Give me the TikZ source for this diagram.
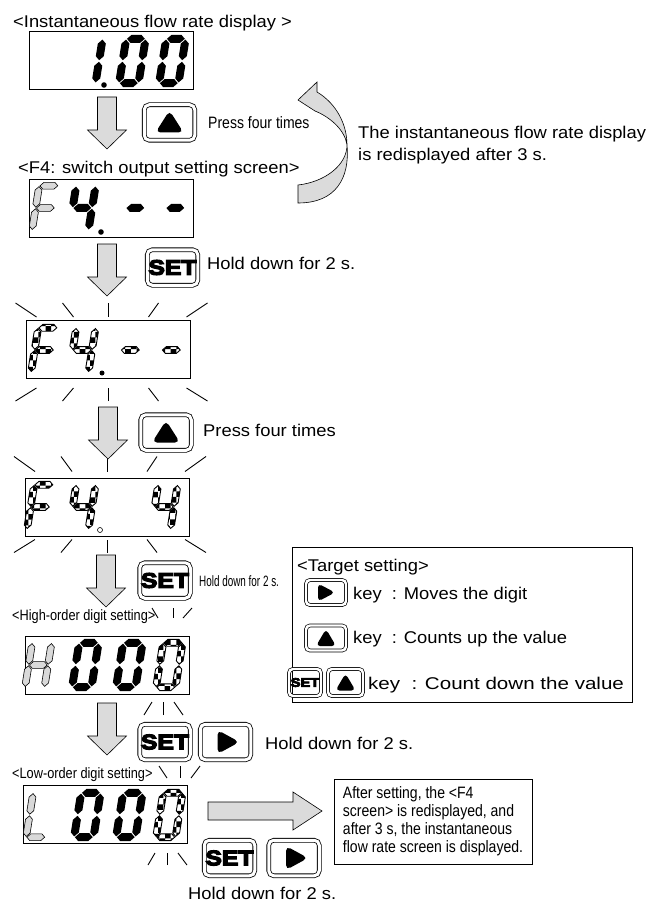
\documentclass[tikz,border=0pt]{standalone}
\usepackage{fontspec}
\setmainfont{Liberation Sans}
\newfontfamily\lblfont{Liberation Sans}[FakeStretch=1.08]
\newfontfamily\widefont{Liberation Sans}[FakeStretch=1.21]
\newfontfamily\condfont{Liberation Sans}[FakeStretch=0.85]
\newfontfamily\thinfont{Liberation Sans}[FakeStretch=0.66]
\newfontfamily\keyfont{Liberation Sans Bold}[FakeStretch=1.18, FakeBold=6]
\usetikzlibrary{patterns}

% where each segment of a digit sits (local frame, y downwards)
\newcommand{\segw}{3.5}
\newcommand{\segpos}[1]{%
  \if a#1\def\segx{13.5}\def\segy{3.8}\def\segr{0}\def\segl{17.8}\fi
  \if b#1\def\segx{23.2}\def\segy{14.9}\def\segr{90}\def\segl{20.6}\fi
  \if c#1\def\segx{23.2}\def\segy{37.1}\def\segr{90}\def\segl{20.6}\fi
  \if d#1\def\segx{13.5}\def\segy{48.2}\def\segr{0}\def\segl{17.8}\fi
  \if e#1\def\segx{3.8}\def\segy{37.1}\def\segr{90}\def\segl{20.6}\fi
  \if f#1\def\segx{3.8}\def\segy{14.9}\def\segr{90}\def\segl{20.6}\fi
  \if g#1\def\segx{13.5}\def\segy{26}\def\segr{0}\def\segl{17.8}\fi}

% one slanted 7-segment digit: style, x, y (top left), segments
\newcommand{\digitat}[4]{%
  \begin{scope}[shift={(#2,#3)}, xslant=0.16]
    \foreach \s in {#4} {
      \segpos{\s}
      \path[#1, shift={(\segx,\segy)}, rotate=\segr]
        (-\segl/2,0) -- (-\segl/2+\segw,-\segw) -- (\segl/2-\segw,-\segw)
        -- (\segl/2,0) -- (\segl/2-\segw,\segw) -- (-\segl/2+\segw,\segw) -- cycle;
    }
  \end{scope}}

\begin{document}
\begin{tikzpicture}[x=1pt, y=-1pt,
    % Styles
    lcd/.style={draw, line width=1pt, minimum width=164pt, minimum height=58pt, inner sep=0pt},
    segon/.style={fill=black, /utils/exec={\def\segw{4}}},
    segdim/.style={draw=black, line width=0.6pt, fill=black!15, /utils/exec={\def\segw{3.4}}},
    segblink/.style={draw=black, line width=0.9pt, pattern=checkerboard, /utils/exec={\def\segw{3.4}}},
    key/.style={
        draw, double, line width=0.8pt, double distance=3pt, rounded corners=5pt,
        minimum width=50.5pt, minimum height=35.5pt, inner sep=0pt,
        font=\keyfont\fontsize{21}{21}\selectfont
    },
    smallkey/.style={
        key, line width=0.7pt, double distance=2.4pt, rounded corners=4pt,
        minimum width=40pt, minimum height=25pt,
        font=\keyfont\fontsize{12.5}{12.5}\selectfont
    },
    upmark/.style={path picture={\fill[shift={(path picture bounding box.center)}]
        (-14,10) -- (14,10) -- (0,-12) -- cycle;}},
    rightmark/.style={path picture={\fill[shift={(path picture bounding box.center)}]
        (-8,-12) -- (-8,12) -- (14,0) -- cycle;}},
    smallup/.style={path picture={\fill[shift={(path picture bounding box.center)}]
        (-10,8) -- (10,8) -- (0,-9) -- cycle;}},
    smallright/.style={path picture={\fill[shift={(path picture bounding box.center)}]
        (-8,-9) -- (-8,9) -- (9,0) -- cycle;}},
    blockarrow/.style={draw=black, line width=0.6pt, fill=black!14},
    ray/.style={line width=0.9pt},
    lbl/.style={inner sep=0pt, anchor=west, text height=12pt, text depth=0pt,
        font=\lblfont\fontsize{17}{22}\selectfont},
    condlbl/.style={lbl, font=\condfont\fontsize{15}{18}\selectfont},
    thinlbl/.style={lbl, font=\thinfont\fontsize{15}{18}\selectfont},
    para/.style={inner sep=0pt, anchor=north west, align=left,
        font=\lblfont\fontsize{17}{22}\selectfont},
    notebox/.style={draw, line width=1pt, minimum width=198pt, minimum height=85pt,
        align=left, inner xsep=8pt, font=\condfont\fontsize{16.5}{18}\selectfont}
]

\path[use as bounding box, fill=white] (0,0) rectangle (660,901);

% ── Instantaneous flow rate ─────────────────────────────────────────────────
\node[lbl] (title1) at (13,22) {<Instantaneous flow rate display >};
\node[lcd] (d1) at (111.5,61) {};
\digitat{segon}{80}{35}{b,c}
\digitat{segon}{123}{35}{a,b,c,d,e,f}
\digitat{segon}{163}{35}{a,b,c,d,e,f}
\fill (104,85) circle (2.8);

\node[key, upmark] (up1) at (169.5,122.5) {};
\node[condlbl, font=\condfont\fontsize{16.5}{18}\selectfont] (press1) at (208,123) {Press four times};

% ── F4 screen ───────────────────────────────────────────────────────────────
\node[lbl] (title2) at (18,168) {<F4: switch output setting screen>};
\node[lcd] (d2) at (111.5,208.5) {};
\digitat{segdim}{36}{182}{a,f,g,e}
\digitat{segon}{73}{182}{f,g,b,c}
\digitat{segon}{126}{182}{g}
\digitat{segon}{166}{182}{g}
\fill (101,232) circle (2.8);

% back to the flow rate display
\path[blockarrow] (298,100) -- (317,82) -- (317,92)
    .. controls (337,104) and (347,125) .. (347,145)
    .. controls (347,165) and (325,182) .. (298,185) -- (298,203)
    .. controls (336,203) and (350,178) .. (347,145)
    .. controls (345,130) and (330,117) .. (315,111) -- cycle;
\node[para] (redisp) at (358,125.5) {The instantaneous flow rate display\\is redisplayed after 3 s.};

\node[key] (set1) at (172.5,267.5) {SET};
\node[lbl] (hold1) at (207,263) {Hold down for 2 s.};

% ── Blinking F4 ─────────────────────────────────────────────────────────────
\node[lcd] (d3) at (108.5,349.5) {};
\digitat{segblink}{35}{324}{a,f,g,e}
\digitat{segblink}{73}{324}{f,g,b,c}
\digitat{segblink}{121}{324}{g}
\digitat{segblink}{162}{324}{g}
\fill (102,373) circle (2.5);

\node[key, upmark] (up2) at (166,432.5) {};
\node[lbl] (press2) at (203,430) {Press four times};

\node[lcd] (d4) at (107,507) {};
\digitat{segblink}{31}{481}{a,f,g,e}
\digitat{segblink}{73}{481}{f,g,b,c}
\digitat{segblink}{155}{481}{f,g,b,c}
\draw[line width=0.6pt, fill=white] (100,530) circle (2.5);

\foreach \o/\i in {-93/-72, -46/-35, 0/0, 50/40, 99/78} {
    \draw[ray] ([shift={(\o,-17)}]d3.north) -- ([shift={(\i,-3)}]d3.north);
    \draw[ray] ([shift={(\o,22)}]d3.south) -- ([shift={(\i,9)}]d3.south);
    \draw[ray] ([shift={(\o,-21)}]d4.north) -- ([shift={(\i,-6)}]d4.north);
    \draw[ray] ([shift={(\o,16)}]d4.south) -- ([shift={(\i,3)}]d4.south);
}

\node[key] (set2) at (165,580.5) {SET};
\node[thinlbl] (hold2) at (199,580) {Hold down for 2 s.};

% ── High-order digit ────────────────────────────────────────────────────────
\node[condlbl] (hiset) at (12,614) {<High-order digit setting>};
\node[lcd] (d5) at (107,665) {};
\digitat{segdim}{29}{639}{b,c,e,f,g}
\digitat{segon}{76}{639}{a,b,c,d,e,f}
\digitat{segon}{120}{639}{a,b,c,d,e,f}
\digitat{segblink}{160}{639}{a,b,c,d,e,f}

\node[key] (set3) at (165,742) {SET};
\node[key, rightmark] (right1) at (225.5,742) {};
\node[lbl] (hold3) at (265,743) {Hold down for 2 s.};

% ── Low-order digit ─────────────────────────────────────────────────────────
\node[condlbl] (loset) at (12,772) {<Low-order digit setting>};
\node[lcd] (d6) at (105.5,814.5) {};
\digitat{segdim}{30}{789}{f,e,d}
\digitat{segon}{78}{789}{a,b,c,d,e,f}
\digitat{segon}{120}{789}{a,b,c,d,e,f}
\digitat{segblink}{160}{789}{a,b,c,d,e,f}

\foreach \xa/\ya/\xb/\yb in {152/608/158/618, 173/608/173/618, 192/608/183/618,
        144/715/152/702, 163/715/163/702, 183/715/174/702,
        159/766/167/778, 180/766/180/778, 200/766/191/778,
        148/865/155/853, 167/865/167/853, 187/865/178/853}
    \draw[ray] (\xa,\ya) -- (\xb,\yb);

\node[key] (set4) at (229.5,858) {SET};
\node[key, rightmark] (right2) at (294,858) {};
\node[lbl] (hold4) at (188,893) {Hold down for 2 s.};

\path[blockarrow] (208,802) -- (293,802) -- (293,792) -- (322,811)
    -- (293,830) -- (293,820) -- (208,820) -- cycle;
\node[notebox] (note) at (433,821.5) {After setting, the <F4\\screen> is redisplayed, and\\after 3 s, the instantaneous\\flow rate screen is displayed.};

% ── Down arrows ─────────────────────────────────────────────────────────────
\foreach \x/\y in {107/97, 107/244, 108/407, 106/555, 107/703}
    \path[blockarrow, shift={(\x,\y)}] (-9.5,0) -- (9.5,0) -- (9.5,33)
        -- (19.5,33) -- (0,52) -- (-19.5,33) -- (-9.5,33) -- cycle;

% ── Target setting ──────────────────────────────────────────────────────────
\node[draw, line width=1pt, minimum width=340pt, minimum height=155pt] (tbox) at (462,624.5) {};
\node[lbl] (tgt) at (297,565) {<Target setting>};
\node[smallkey, smallright] (tright) at (326,592.5) {};
\node[lbl] (tmove) at (353,593) {key~ : Moves the digit};
\node[smallkey, smallup] (tup) at (326,638) {};
\node[lbl] (tcount) at (353,637) {key~ : Counts up the value};
\node[smallkey, minimum width=32pt, minimum height=27pt] (tset) at (305,682.5) {SET};
\node[smallkey, smallup, minimum width=35pt, minimum height=27pt] (tup2) at (345.5,682.5) {};
\node[lbl, font=\widefont\fontsize{17}{22}\selectfont] (tdown) at (368,683) {key~ : Count down the value};

\end{tikzpicture}
\end{document}
